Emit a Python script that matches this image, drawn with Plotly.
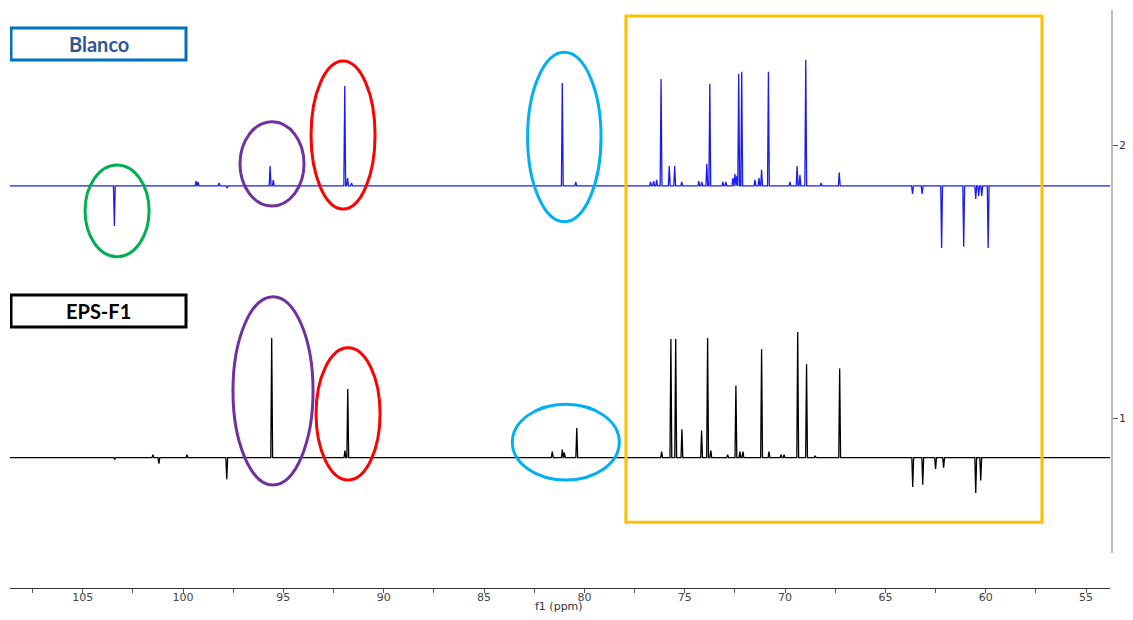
import plotly.graph_objects as go

# ---------------- data ----------------
# Blanco (blue) spectrum: peak positions (ppm) and intensities (stack units)
blanco_ppm = [103.42, 99.35, 99.25, 98.2, 97.8, 95.66, 95.5, 91.94, 91.8, 91.6,
              81.1, 80.43, 76.7, 76.55, 76.4, 76.18, 75.77, 75.5, 75.15, 74.3,
              74.15, 73.9, 73.75, 73.1, 72.95, 72.6, 72.5, 72.4, 72.31, 72.16,
              71.5, 71.3, 71.17, 70.83, 69.76, 69.4, 69.26, 68.97, 68.2, 67.3,
              63.65, 63.17, 62.2, 61.1, 60.5, 60.35, 60.2, 59.88]
blanco_int = [-0.147, 0.018, 0.015, 0.011, -0.007, 0.073, 0.022, 0.366, 0.029, 0.011,
              0.377, 0.015, 0.015, 0.018, 0.022, 0.392, 0.073, 0.073, 0.015, 0.018,
              0.015, 0.081, 0.374, 0.015, 0.015, 0.029, 0.044, 0.037, 0.410, 0.418,
              0.022, 0.029, 0.059, 0.418, 0.015, 0.073, 0.040, 0.462, 0.011, 0.049,
              -0.029, -0.029, -0.227, -0.223, -0.048, -0.037, -0.037, -0.227]

# EPS-F1 (black) spectrum
eps_ppm = [103.4, 101.5, 101.2, 99.8, 97.82, 95.58, 91.93, 91.79, 81.6, 81.1,
           81.0, 80.38, 76.15, 75.69, 75.45, 75.14, 74.16, 73.86, 73.7, 72.86,
           72.45, 72.25, 72.1, 71.17, 70.8, 70.2, 70.05, 69.37, 68.93, 68.5,
           67.28, 63.64, 63.14, 62.5, 62.1, 60.5, 60.25]
eps_int = [-0.007, 0.011, -0.022, 0.011, -0.079, 0.438, 0.026, 0.251, 0.022, 0.029,
           0.018, 0.108, 0.022, 0.434, 0.434, 0.104, 0.099, 0.438, 0.026, 0.011,
           0.264, 0.022, 0.022, 0.397, 0.022, 0.011, 0.011, 0.460, 0.342, 0.007,
           0.326, -0.108, -0.099, -0.042, -0.037, -0.130, -0.084]

spectra_names = ["Blanco", "EPS-F1"]
stack_offsets = [1.85, 0.855]
x_range = [108.62, 53.81]
major_ticks = [105, 100, 95, 90, 85, 80, 75, 70, 65, 60, 55]
minor_ticks = [107.5, 102.5, 97.5, 92.5, 87.5, 82.5, 77.5, 72.5, 67.5, 62.5, 57.5]
y_ticks = [1, 2]
y_tick_labels = ["1", "2"]

HALF_W = 0.045  # half width of each drawn line (ppm)


def stick_line(ppm, inten, offset):
    pairs = sorted(zip(ppm, inten), key=lambda t: -t[0])
    xs, ys = [x_range[0]], [offset]
    for p, h in pairs:
        xs += [p + HALF_W, p, p - HALF_W]
        ys += [offset, offset + h, offset]
    xs.append(x_range[1])
    ys.append(offset)
    return xs, ys


fig = go.Figure()
bx, by = stick_line(blanco_ppm, blanco_int, stack_offsets[0])
ex, ey = stick_line(eps_ppm, eps_int, stack_offsets[1])
fig.add_trace(go.Scatter(x=bx, y=by, mode="lines", name=spectra_names[0],
                         line=dict(color="#1A1AF2", width=1.3)))
fig.add_trace(go.Scatter(x=ex, y=ey, mode="lines", name=spectra_names[1],
                         line=dict(color="#000000", width=1.3)))

# ---------------- annotation shapes ----------------
shapes = []


def ellipse(x0, x1, y0, y1, color):
    shapes.append(dict(type="circle", xref="x", yref="y", x0=x0, x1=x1, y0=y0, y1=y1,
                       line=dict(color=color, width=3)))


ellipse(104.88, 101.69, 1.5908, 1.9267, "#00B050")   # green
ellipse(97.16, 93.97, 1.7766, 2.0853, "#7030A0")     # purple top
ellipse(93.62, 90.43, 1.7656, 2.3077, "#FF0000")     # red top
ellipse(82.83, 79.17, 1.7190, 2.3396, "#00B0F0")     # cyan top
ellipse(97.51, 93.52, 0.7546, 1.4443, "#7030A0")     # purple bottom
ellipse(93.37, 90.18, 0.7729, 1.2575, "#FF0000")     # red bottom
ellipse(83.59, 78.26, 0.7729, 1.0502, "#00B0F0")     # cyan bottom

shapes.append(dict(type="rect", xref="x", yref="y", x0=77.93, x1=57.20, y0=0.618, y1=2.4725,
                   line=dict(color="#FFC000", width=3)))
shapes.append(dict(type="rect", xref="x", yref="y", x0=108.57, x1=99.85, y0=2.3114, y1=2.4286,
                   line=dict(color="#0070C0", width=3), fillcolor="white"))
shapes.append(dict(type="rect", xref="x", yref="y", x0=108.57, x1=99.85, y0=1.3333, y1=1.4505,
                   line=dict(color="#000000", width=3), fillcolor="white"))

annotations = [
    dict(x=104.21, y=2.37, xref="x", yref="y", text="<b>Blanco</b>", showarrow=False,
         font=dict(family="Lato", size=20, color="#2F5597")),
    dict(x=104.21, y=1.392, xref="x", yref="y", text="<b>EPS-F1</b>", showarrow=False,
         font=dict(family="Lato", size=20, color="#000000")),
    dict(x=81.25, y=-0.032, xref="x", yref="paper", text="f1 (ppm)", showarrow=False,
         yanchor="middle", font=dict(family="DejaVu Sans", size=11, color="#333333")),
]
# right-axis tick labels (drawn as text next to the axis ticks)
for val, lab in zip(y_ticks, y_tick_labels):
    annotations.append(dict(x=1, y=val, xref="paper", yref="y", text=lab, showarrow=False,
                            xanchor="left", yanchor="middle", xshift=5,
                            font=dict(family="DejaVu Sans", size=11, color="#333333")))

# the page body has an 8px margin on every side; the figure is sized so the
# page does not overflow (overflow would add scrollbars that hide the right edge)
fig.update_layout(
    width=1117, height=604,
    margin=dict(l=2, r=13, t=2, b=24, autoexpand=False),
    paper_bgcolor="white", plot_bgcolor="white",
    showlegend=False,
    shapes=shapes, annotations=annotations,
    xaxis=dict(range=x_range, domain=[0, 1100 / 1102], anchor="free", position=0,
               automargin=False,
               showgrid=False, zeroline=False, showline=True, linecolor="#333333", linewidth=1,
               tickvals=major_ticks, ticks="outside", ticklen=4, tickcolor="#555555",
               ticklabelstandoff=-5,
               tickfont=dict(family="DejaVu Sans", size=11, color="#444444"),
               minor=dict(tickvals=minor_ticks, ticks="outside", ticklen=4,
                          tickcolor="#555555", showgrid=False)),
    yaxis=dict(range=[0.5055, 2.4945], domain=[35 / 578, 1], side="right", anchor="free",
               position=1, showgrid=False, zeroline=False, showline=True,
               linecolor="#BBBBBB", linewidth=2, tickvals=y_ticks, ticks="outside",
               ticklen=5, tickcolor="#555555", automargin=False, showticklabels=False),
)

fig.write_html("out.html")
